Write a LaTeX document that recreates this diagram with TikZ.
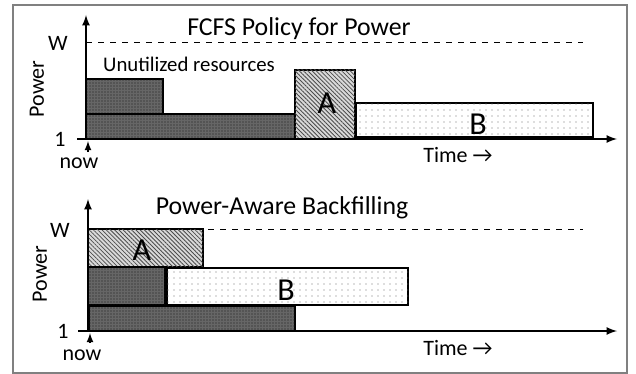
\documentclass[tikz,border=0pt]{standalone}
\usepackage{fontspec}
\setmainfont{Carlito}
\usepackage{tikz}
\usetikzlibrary{arrows, patterns, patterns.meta}

\begin{document}
\begin{tikzpicture}[x=0.5pt, y=-0.5pt]
    \tikzstyle{frame}=[draw=black!50, line width=0.8pt]
    \tikzstyle{axis}=[draw, line width=0.8pt, -latex]
    \tikzstyle{limit}=[draw, dashed, line width=0.5pt]
    \tikzstyle{jobdark}=[draw, line width=0.6pt, fill=black!60, postaction={pattern={Dots[distance=1.5pt, radius=0.35pt]}, pattern color=black!90}]
    \tikzstyle{jobA}=[draw, line width=0.6pt, fill=black!15, postaction={pattern={Lines[angle=-45, distance=1.5pt, line width=0.4pt]}, pattern color=black!70}]
    \tikzstyle{jobB}=[draw, line width=0.6pt, fill=white, postaction={pattern={Dots[distance=3pt, radius=0.3pt]}, pattern color=black!55}]
    \tikzstyle{title}=[font=\fontsize{12.9}{15}\selectfont]
    \tikzstyle{lbl}=[font=\fontsize{11}{13}\selectfont, inner sep=1pt]
    \tikzstyle{joblbl}=[font=\fontsize{16}{18}\selectfont, inner sep=0pt]

    \useasboundingbox (0,0) rectangle (636,374);
    \draw[frame] (13,5) rectangle (627,373);

    % FCFS
    \node[title] (t1) at (299,29) {FCFS Policy for Power};
    \draw[jobdark] (86,79) rectangle (163,114);
    \draw[jobdark] (86,114) rectangle (295,139);
    \draw[jobA] (295,70) rectangle (355,139);
    \draw[jobB] (356,103) rectangle (593,137);
    \node[joblbl] (a1) at (327,103) {A};
    \node[joblbl] (b1) at (478,124) {B};
    \node[lbl, font=\fontsize{10.4}{12}\selectfont] (unused) at (189,64) {Unutilized resources};

    \coordinate (o1) at (86,139);
    \coordinate (y1) at (86,15);
    \coordinate (x1) at (617,139);
    \coordinate (w1) at (583,43);
    \path[axis] (o1) -- (y1);
    \path[axis] (o1) ++(-9,0) -- (x1);
    \path[limit] (o1 |- w1) -- (w1);
    \node[lbl] (wl1) at (58,43) {W};
    \node[lbl] (one1) at (60,139) {1};
    \node[lbl, rotate=90] (pw1) at (37,89) {Power};
    \node[lbl] (now1) at (79,163) {now};
    \node[lbl] (time1) at (458,155) {Time →};
    \draw[-latex, line width=0.6pt] (88,152) -- (88,141);

    % backfilling
    \node[title] (t2) at (282,208) {Power-Aware Backfilling};
    \draw[jobA] (88,229) rectangle (203,267);
    \draw[jobdark] (88,267) rectangle (165,305);
    \draw[jobB] (167,268) rectangle (408,305);
    \draw[jobdark] (89,306) rectangle (295,331);
    \node[joblbl] (a2) at (142,250) {A};
    \node[joblbl] (b2) at (286,290) {B};

    \coordinate (o2) at (88,331);
    \coordinate (y2) at (88,199);
    \coordinate (x2) at (617,331);
    \coordinate (w2) at (583,229);
    \path[axis] (o2) -- (y2);
    \path[axis] (o2) ++(-10,0) -- (x2);
    \path[limit] (o2 |- w2) -- (w2);
    \node[lbl] (wl2) at (60,230) {W};
    \node[lbl] (one2) at (63,331) {1};
    \node[lbl, rotate=90] (pw2) at (40,274) {Power};
    \node[lbl] (now2) at (82,355) {now};
    \node[lbl] (time2) at (458,348) {Time →};
    \draw[-latex, line width=0.6pt] (90,343) -- (90,333);
\end{tikzpicture}
\end{document}
